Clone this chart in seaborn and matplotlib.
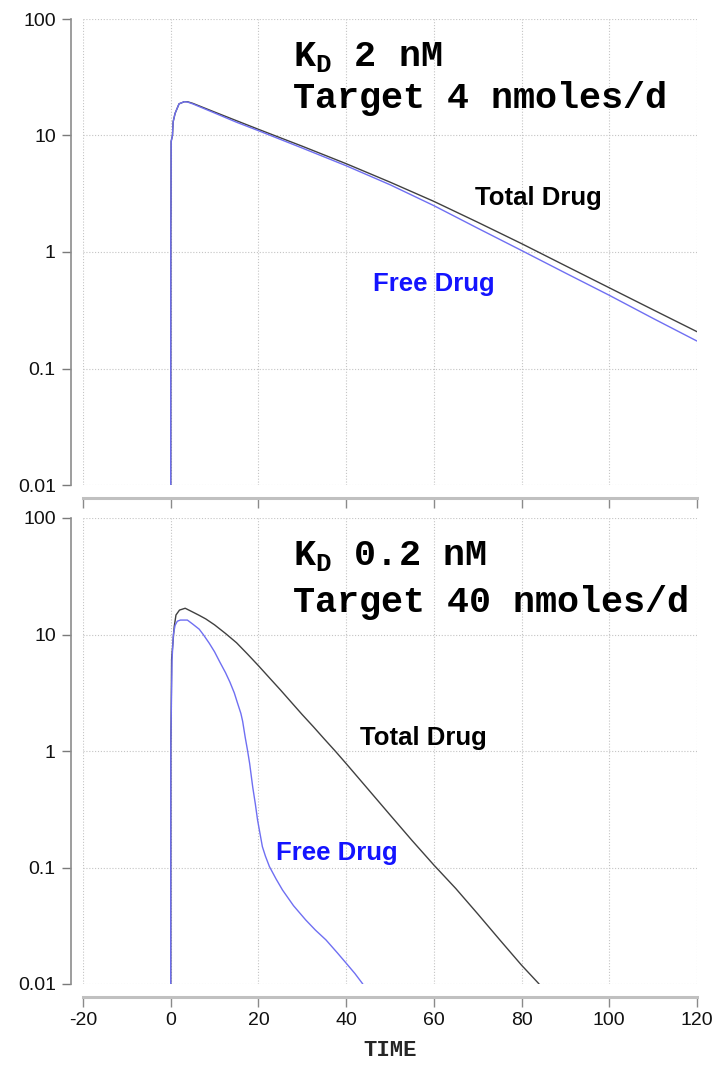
import numpy as np
import pandas as pd
import matplotlib
matplotlib.use("Agg")
import matplotlib.pyplot as plt
from matplotlib.ticker import NullLocator
import seaborn as sns

# ---- concentration-time profiles (log scale) ----
# Panel 1: KD 2 nM, target 4 nmoles/d
top_total_t = [0, 0.02, 0.05, 0.1, 0.4, 0.55, 1.0, 1.9, 3.1, 3.8, 5, 10, 15, 20,
               30, 40, 50, 60, 70, 80, 90, 100, 110, 120]
top_total_c = [0.01, 1.75, 2.1, 8.9, 10, 13.1, 15.5, 18.7, 19.5, 19.5, 18.9, 15.9, 13.4, 11.3,
               8.09, 5.73, 3.98, 2.72, 1.80, 1.18, 0.762, 0.493, 0.319, 0.207]
top_free_t = [0, 0.02, 0.05, 0.1, 0.4, 0.55, 1.0, 1.9, 3.1, 3.8, 5, 10, 15, 20,
              30, 40, 50, 60, 70, 80, 90, 100, 110, 120]
top_free_c = [0.01, 1.75, 2.1, 8.9, 10, 13.1, 15.5, 18.7, 19.5, 19.4, 18.7, 15.6, 13.0, 11.0,
              7.8, 5.5, 3.78, 2.50, 1.60, 1.03, 0.66, 0.425, 0.269, 0.172]

# Panel 2: KD 0.2 nM, target 40 nmoles/d
bot_total_t = [0, 0.02, 0.1, 0.2, 0.8, 1.2, 2.0, 3.3, 5, 6.5, 8, 10, 12.5, 15, 17.5, 20,
               22.5, 25, 27.5, 30, 32.5, 35, 37.5, 40, 45, 50, 55, 60, 65, 70, 75, 80, 84]
bot_total_c = [0.01, 1.16, 1.9, 6.1, 11.7, 14.7, 16.2, 16.8, 15.6, 14.6, 13.6, 12.1, 10.2, 8.5,
               6.8, 5.4, 4.25, 3.35, 2.62, 2.05, 1.62, 1.27, 1.0, 0.78, 0.47, 0.283, 0.171,
               0.105, 0.066, 0.040, 0.024, 0.0145, 0.01]
bot_free_t = [0, 0.02, 0.1, 0.3, 0.6, 1.0, 1.5, 2.2, 3.8, 5.0, 6.5, 7.5, 8.8, 10, 11.2, 12.5,
              13.5, 14.5, 15.2, 16.0, 16.4, 17.0, 17.5, 18.0, 18.7, 19.3, 19.8, 20.9, 21.6,
              22.5, 24.0, 25.5, 28.0, 30.8, 33.0, 35.4, 38.0, 40.0, 42.0, 43.8]
bot_free_c = [0.01, 1.1, 1.8, 6.0, 10.0, 12.0, 13.0, 13.3, 13.3, 12.3, 11.1, 9.9, 8.4, 7.1, 5.8,
              4.7, 3.9, 3.15, 2.6, 2.1, 1.8, 1.3, 1.02, 0.78, 0.49, 0.35, 0.256, 0.151, 0.125,
              0.102, 0.080, 0.064, 0.047, 0.0354, 0.029, 0.0239, 0.0185, 0.0151, 0.0123, 0.01]

x_ticks = [-20, 0, 20, 40, 60, 80, 100, 120]
x_tick_labels = ["-20", "0", "20", "40", "60", "80", "100", "120"]
y_ticks = [0.01, 0.1, 1, 10, 100]
y_tick_labels = ["0.01", "0.1", "1", "10", "100"]

panel_titles = [("K$_\\mathrm{D}$ 2 nM", "Target 4 nmoles/d"),
                ("K$_\\mathrm{D}$ 0.2 nM", "Target 40 nmoles/d")]
species = ["Total Drug", "Free Drug"]

# ---- styling ----
sns.set_style("white")
plt.rcParams["font.family"] = ["Liberation Sans", "DejaVu Sans"]
plt.rcParams["axes.unicode_minus"] = False
plt.rcParams["mathtext.fontset"] = "custom"
plt.rcParams["mathtext.rm"] = "Liberation Mono:bold"
plt.rcParams["mathtext.it"] = "Liberation Mono:bold"
plt.rcParams["mathtext.bf"] = "Liberation Mono:bold"

line_colors = {"Total Drug": "#404040", "Free Drug": "#6f6ff2"}
label_colors = {"Total Drug": "#000000", "Free Drug": "#1414ff"}
mono = ["Liberation Mono", "DejaVu Sans Mono"]

fig = plt.figure(figsize=(7.12, 10.66), dpi=100)
ax_top = fig.add_axes([83 / 712, 1 - 485 / 1066, 614 / 712, 466 / 1066])
ax_bot = fig.add_axes([83 / 712, 1 - 984 / 1066, 614 / 712, 466 / 1066])


def make_frame(total_t, total_c, free_t, free_c):
    return pd.concat([
        pd.DataFrame({"time": total_t, "conc": total_c, "species": "Total Drug"}),
        pd.DataFrame({"time": free_t, "conc": free_c, "species": "Free Drug"}),
    ], ignore_index=True)


frames = [make_frame(top_total_t, top_total_c, top_free_t, top_free_c),
          make_frame(bot_total_t, bot_total_c, bot_free_t, bot_free_c)]

# label anchor positions in axes fraction
label_pos = [
    {"Total Drug": (0.741, 0.616), "Free Drug": (0.572, 0.431)},
    {"Total Drug": (0.555, 0.528), "Free Drug": (0.414, 0.281)},
]
title_pos = [((0.342, 0.899), (0.342, 0.809)),
             ((0.342, 0.899), (0.342, 0.798))]

for i, (ax, df) in enumerate(zip([ax_top, ax_bot], frames)):
    sns.lineplot(data=df, x="time", y="conc", hue="species", hue_order=species,
                 palette=line_colors, estimator=None, sort=False, legend=False,
                 linewidth=1.0, ax=ax)
    ax.set_yscale("log")
    ax.set_xlim(-20, 120)
    ax.set_ylim(0.01, 100)
    ax.set_xticks(x_ticks)
    ax.set_yticks(y_ticks)
    ax.yaxis.set_minor_locator(NullLocator())
    ax.set_yticklabels(y_tick_labels)
    if i == 1:
        ax.set_xticklabels(x_tick_labels)
        ax.set_xlabel("TIME", fontsize=16, fontweight="bold", family=mono, labelpad=8)
    else:
        ax.set_xticklabels([])
        ax.set_xlabel("")
    ax.set_ylabel("")

    ax.grid(True, which="major", linestyle=(0, (1, 1.6)), color="#c4c4c4", linewidth=0.8)
    ax.set_axisbelow(True)
    for side in ("top", "right"):
        ax.spines[side].set_visible(False)
    ax.spines["left"].set_position(("outward", 8.6))
    ax.spines["left"].set_color("#8c8c8c")
    ax.spines["left"].set_linewidth(1.2)
    ax.spines["bottom"].set_position(("outward", 9.4))
    ax.spines["bottom"].set_color("#c0c0c0")
    ax.spines["bottom"].set_linewidth(2.2)
    ax.tick_params(axis="y", direction="out", length=6.5, width=1.0, color="#7a7a7a",
                   pad=4.5, labelcolor="#111111", labelsize=14, left=True)
    ax.tick_params(axis="x", direction="out", length=7.5, width=1.0, color="#8a8a8a",
                   pad=3, labelcolor="#111111", labelsize=14, bottom=True)

    for sp in species:
        px, py = label_pos[i][sp]
        ax.text(px, py, sp, transform=ax.transAxes, ha="center", va="center",
                fontsize=18.5, fontweight="bold", color=label_colors[sp])

    (x1, y1), (x2, y2) = title_pos[i]
    ax.text(x1, y1, panel_titles[i][0], transform=ax.transAxes, ha="left", va="baseline",
            fontsize=26.5, fontweight="bold", family=mono, color="#000000")
    ax.text(x2, y2, panel_titles[i][1], transform=ax.transAxes, ha="left", va="baseline",
            fontsize=26.5, fontweight="bold", family=mono, color="#000000")

fig.savefig("out.png", dpi=100)
